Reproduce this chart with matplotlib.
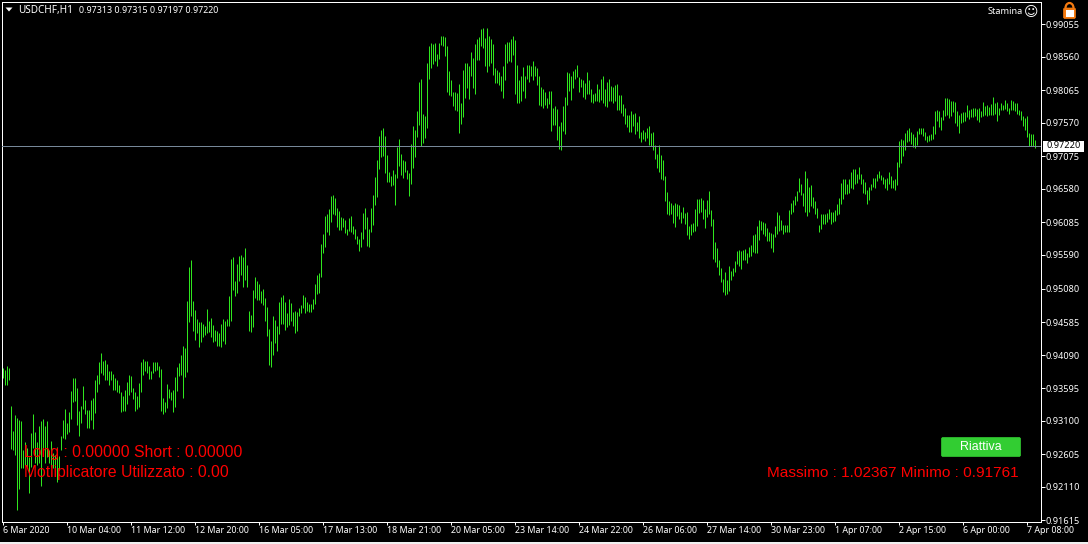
import matplotlib

matplotlib.use("Agg")
import matplotlib.pyplot as plt
import numpy as np
from matplotlib.patches import Arc, FancyBboxPatch, Polygon, Rectangle

# hourly bars, in points (1 point = 0.00001)
HIGHS = [
    93895, 93865, 93925, 93895, 93325, 92950, 93190, 93145, 93115, 93100,
    92665, 92785, 92695, 92560, 92920, 93205, 92935, 92785, 93025, 93100,
    93130, 93025, 93100, 92665, 92800, 92620, 92590, 92710, 92575, 92875,
    93115, 93280, 93070, 93235, 93550, 93745, 93745, 93595, 93250, 93325,
    93625, 93415, 93265, 93265, 93415, 93445, 93715, 93790, 93985, 94120,
    94000, 94015, 93955, 93850, 93850, 93805, 93745, 93715, 93640, 93535,
    93475, 93565, 93685, 93790, 93775, 93595, 93535, 93475, 93670, 93985,
    94030, 94000, 94000, 93925, 93850, 93985, 93985, 93985, 93925, 93880,
    93445, 93385, 93655, 93580, 93535, 93565, 93760, 93910, 93970, 94090,
    94225, 94195, 94900, 95410, 95515, 94900, 94765, 94630, 94585, 94585,
    94555, 94525, 94780, 94600, 94645, 94540, 94465, 94450, 94420, 94555,
    94630, 94600, 94630, 94975, 95530, 95560, 95200, 95455, 95575, 95590,
    95560, 95695, 95440, 94750, 94690, 95065, 95260, 95200, 95155, 95050,
    95080, 94945, 94810, 94480, 94300, 94675, 94615, 94525, 94885, 94960,
    94990, 94885, 94720, 94930, 94870, 94735, 94750, 94735, 94795, 94840,
    94990, 94960, 94885, 94855, 94855, 94930, 95155, 95290, 95320, 95755,
    95905, 96175, 96205, 96280, 96475, 96490, 96445, 96295, 96250, 96160,
    96145, 96115, 95980, 96145, 96175, 96025, 95980, 95875, 95830, 95935,
    96220, 96295, 96160, 95980, 96295, 96490, 96760, 97015, 97375, 97465,
    97495, 97375, 97090, 96835, 96775, 96865, 96805, 97210, 97330, 97105,
    97015, 97000, 96865, 96820, 97255, 97525, 97465, 97750, 98185, 98230,
    97705, 97675, 98470, 98725, 98770, 98755, 98770, 98605, 98770, 98875,
    98875, 98860, 98725, 98350, 98215, 98035, 98035, 98020, 98155, 97870,
    98365, 98470, 98470, 98425, 98635, 98545, 98755, 98830, 98860, 98980,
    98995, 98845, 98995, 98875, 98830, 98755, 98395, 98365, 98335, 98275,
    98425, 98755, 98785, 98785, 98830, 98875, 98815, 98440, 98215, 98275,
    98410, 98275, 98440, 98440, 98425, 98500, 98425, 98395, 98275, 98110,
    98080, 98035, 97945, 98050, 98050, 97795, 97825, 97780, 97525, 97585,
    97825, 97960, 98335, 98320, 98275, 98350, 98380, 98440, 98260, 98230,
    98215, 98170, 98335, 98215, 98080, 98005, 98020, 98155, 98080, 98230,
    98275, 98080, 98185, 98230, 98125, 98110, 98140, 98155, 97990, 97990,
    97855, 97795, 97690, 97690, 97750, 97705, 97720, 97585, 97675, 97435,
    97465, 97435, 97495, 97525, 97420, 97435, 97240, 97105, 97240, 97090,
    97015, 96775, 96535, 96400, 96370, 96340, 96370, 96355, 96340, 96235,
    96310, 96220, 96235, 96025, 96055, 96070, 96280, 96430, 96430, 96445,
    96415, 96280, 96415, 96550, 96265, 96130, 95785, 95695, 95515, 95395,
    95230, 95335, 95215, 95425, 95350, 95395, 95500, 95650, 95665, 95650,
    95665, 95680, 95620, 95710, 95740, 95890, 95905, 96025, 96115, 96100,
    96085, 96070, 95995, 95935, 95920, 95905, 96025, 96235, 96190, 96115,
    96040, 96040, 96040, 96265, 96370, 96415, 96475, 96550, 96745, 96655,
    96520, 96850, 96745, 96610, 96640, 96460, 96400, 96295, 96040, 96205,
    96205, 96205, 96220, 96280, 96235, 96235, 96265, 96355, 96445, 96670,
    96730, 96730, 96655, 96730, 96835, 96880, 96880, 96805, 96910, 96805,
    96730, 96685, 96565, 96610, 96655, 96745, 96745, 96805, 96850, 96790,
    96760, 96730, 96745, 96835, 96775, 96715, 96730, 96985, 97300, 97330,
    97315, 97420, 97465, 97495, 97435, 97405, 97360, 97450, 97495, 97495,
    97495, 97435, 97375, 97390, 97405, 97525, 97750, 97765, 97750, 97660,
    97765, 97945, 97945, 97930, 97900, 97900, 97885, 97750, 97690, 97720,
    97735, 97735, 97840, 97765, 97780, 97795, 97795, 97780, 97795, 97750,
    97885, 97825, 97840, 97810, 97855, 97960, 97870, 97885, 97795, 97870,
    97840, 97915, 97870, 97795, 97915, 97900, 97870, 97870, 97765, 97750,
    97675, 97645, 97675, 97420, 97405, 97405, 97315,
]
LOWS = [
    93745, 93640, 93640, 93715, 92680, 92665, 92590, 91765, 92080, 92395,
    92395, 92440, 92395, 92020, 92410, 92695, 92470, 92440, 92470, 92125,
    92590, 92470, 92560, 92470, 92410, 92395, 92320, 92185, 92365, 92665,
    92845, 92830, 92905, 92935, 93130, 93385, 93400, 93040, 92875, 93070,
    93280, 93205, 92995, 92995, 93115, 92980, 93220, 93535, 93655, 93820,
    93790, 93715, 93715, 93640, 93715, 93565, 93565, 93535, 93520, 93235,
    93250, 93250, 93355, 93490, 93535, 93430, 93250, 93280, 93310, 93535,
    93790, 93850, 93820, 93730, 93730, 93820, 93850, 93865, 93760, 93250,
    93205, 93235, 93295, 93445, 93415, 93235, 93310, 93550, 93775, 93790,
    93445, 93760, 93835, 94585, 94675, 94450, 94315, 94420, 94210, 94285,
    94360, 94390, 94420, 94435, 94360, 94285, 94300, 94225, 94225, 94210,
    94300, 94255, 94525, 94525, 94600, 95065, 94975, 95020, 95200, 95290,
    95110, 95215, 95110, 94450, 94435, 94510, 94945, 94915, 94915, 94870,
    94840, 94600, 94375, 93940, 93910, 94090, 94270, 94150, 94405, 94555,
    94555, 94465, 94510, 94540, 94600, 94525, 94420, 94450, 94675, 94720,
    94795, 94720, 94750, 94735, 94735, 94780, 94855, 95005, 95020, 95260,
    95620, 95710, 95935, 95890, 96085, 96205, 96190, 96010, 95965, 95965,
    96010, 95920, 95890, 95950, 95935, 95905, 95830, 95755, 95650, 95710,
    95830, 95980, 95725, 95710, 95935, 96040, 96340, 96460, 96880, 97060,
    97075, 96820, 96685, 96685, 96625, 96640, 96340, 96745, 96925, 96790,
    96745, 96835, 96730, 96475, 96655, 96895, 97060, 97360, 97540, 97225,
    97270, 97345, 97495, 98230, 98395, 98455, 98500, 98425, 98530, 98740,
    98725, 98575, 98035, 97990, 97975, 97825, 97765, 97750, 97420, 97555,
    97660, 97945, 98095, 97930, 98275, 98095, 98005, 98515, 98515, 98725,
    98695, 98425, 98335, 98425, 98470, 98290, 98170, 98170, 98140, 98050,
    97945, 98215, 98470, 98500, 98485, 98590, 98005, 97870, 97870, 97900,
    98050, 97945, 98230, 98185, 98275, 98215, 98275, 98140, 97840, 97825,
    97795, 97840, 97795, 97855, 97450, 97540, 97540, 97315, 97180, 97165,
    97450, 97405, 97840, 98050, 97915, 98095, 98230, 98260, 98035, 98110,
    97960, 97930, 98005, 98005, 97885, 97870, 97900, 97900, 97885, 97915,
    97870, 97825, 97810, 97900, 97900, 97870, 97900, 97765, 97765, 97720,
    97675, 97555, 97510, 97435, 97435, 97525, 97405, 97450, 97345, 97285,
    97330, 97300, 97345, 97240, 97225, 97165, 97030, 96895, 96835, 96730,
    96715, 96400, 96205, 96190, 96205, 96070, 96010, 96175, 96130, 96070,
    96145, 96055, 95890, 95830, 95890, 95935, 95950, 96025, 96220, 96235,
    96130, 95995, 96160, 96205, 96025, 95530, 95485, 95410, 95290, 95185,
    95035, 94990, 95005, 95050, 95215, 95275, 95335, 95455, 95425, 95380,
    95515, 95515, 95470, 95560, 95575, 95635, 95620, 95620, 95815, 95965,
    95905, 95875, 95800, 95800, 95695, 95635, 95860, 95905, 95950, 95965,
    95905, 95935, 95935, 95935, 96205, 96235, 96340, 96400, 96535, 96490,
    96325, 96235, 96175, 96235, 96325, 96295, 96205, 96145, 95935, 95980,
    96055, 96055, 96085, 96130, 96055, 96085, 96100, 96190, 96205, 96355,
    96430, 96505, 96505, 96520, 96595, 96580, 96655, 96670, 96730, 96655,
    96520, 96505, 96355, 96415, 96565, 96610, 96595, 96700, 96745, 96715,
    96655, 96595, 96565, 96655, 96595, 96595, 96565, 96640, 96910, 96970,
    97075, 97165, 97285, 97300, 97255, 97210, 97195, 97240, 97405, 97405,
    97375, 97315, 97285, 97300, 97315, 97330, 97405, 97600, 97510, 97465,
    97615, 97675, 97690, 97645, 97675, 97735, 97570, 97525, 97420, 97570,
    97585, 97600, 97660, 97630, 97660, 97660, 97675, 97615, 97585, 97660,
    97675, 97690, 97675, 97690, 97690, 97690, 97705, 97600, 97690, 97765,
    97765, 97780, 97750, 97705, 97765, 97765, 97750, 97705, 97690, 97615,
    97525, 97465, 97360, 97225, 97225, 97225, 97197,
]
PRICE_TICKS = [0.99055, 0.98560, 0.98065, 0.97570, 0.97075, 0.96580, 0.96085, 0.95590,
               0.95080, 0.94585, 0.94090, 0.93595, 0.93100, 0.92605, 0.92110, 0.91615]
TIME_LABELS = ["6 Mar 2020", "10 Mar 04:00", "11 Mar 12:00", "12 Mar 20:00", "16 Mar 05:00",
               "17 Mar 13:00", "18 Mar 21:00", "20 Mar 05:00", "23 Mar 14:00", "24 Mar 22:00",
               "26 Mar 06:00", "27 Mar 14:00", "30 Mar 23:00", "1 Apr 07:00", "2 Apr 15:00",
               "6 Apr 00:00", "7 Apr 08:00"]
BARS_PER_LABEL = 32
BID = 0.97220

W, H = 1088, 544
UI_FONT = ["Noto Sans", "DejaVu Sans"]
RED_FONT = ["Liberation Sans", "DejaVu Sans"]

fig = plt.figure(figsize=(W / 100, H / 100), dpi=100, facecolor="black")
ax = fig.add_axes([2 / W, 1 - 522 / H, 1039 / W, 520 / H], facecolor="black")

highs = np.array(HIGHS) / 1e5
lows = np.array(LOWS) / 1e5
ax.vlines(np.arange(len(highs)), lows, highs, color="#2fe61e", linewidth=0.72, zorder=2)
ax.axhline(BID, color="#778899", linewidth=0.72, zorder=3)

ax.set_xlim(-0.65, 518.85)
ax.set_ylim(0.91585, 0.99385)

ax.yaxis.tick_right()
ax.set_yticks(PRICE_TICKS)
ax.set_yticklabels([f"{p:.5f}" for p in PRICE_TICKS], fontsize=6.6, family=UI_FONT, color="white")
ax.set_xticks(np.arange(len(TIME_LABELS)) * BARS_PER_LABEL)
# MT4 starts each time label at its tick rather than centring it
ax.set_xticklabels(TIME_LABELS, fontsize=6.4, family=UI_FONT, color="white", ha="left")
ax.tick_params(axis="y", colors="white", length=3, width=0.72, pad=0.4)
ax.tick_params(axis="x", colors="white", length=2.2, width=0.72, pad=0.5)
for s in ax.spines.values():
    s.set_color("white")
    s.set_linewidth(0.72)

# overlay in image pixels for the terminal furniture
ui = fig.add_axes([0, 0, 1, 1], facecolor="none")
ui.set_xlim(0, W)
ui.set_ylim(H, 0)
ui.axis("off")

ui.add_patch(Polygon([(5.5, 7.5), (12.5, 7.5), (9, 11.5)], closed=True, color="white", lw=0))
ui.text(18, 10.5, "USDCHF,H1", color="white", fontsize=7.2, family=UI_FONT, va="center")
ui.text(79, 10.5, "0.97313 0.97315 0.97197 0.97220", color="white", fontsize=6.45, family=UI_FONT, va="center")
ui.text(1023, 12, "Stamina", color="white", fontsize=6.6, family=UI_FONT, va="center", ha="right")
ui.text(1031, 12, "\u263a", color="white", fontsize=10, family="DejaVu Sans", va="center", ha="center")

# price label of the bid line
ui.add_patch(Rectangle((1043, 141), 41, 11, color="white", lw=0))
ui.text(1063.5, 146, f"{BID:.5f}", color="black", fontsize=6.6, family=UI_FONT, va="center", ha="center")

# lock icon
ui.add_patch(Arc((1069.5, 8), 8, 10, theta1=180, theta2=360, color="#f47a10", lw=1.6))
ui.add_patch(FancyBboxPatch((1064, 8.5), 11, 9.5, boxstyle="round,pad=0.5,rounding_size=1.5",
                            fc="#f47a10", ec="#f47a10", lw=0.5))
ui.add_patch(Rectangle((1066, 10), 7.5, 6.5, color="white", lw=0))

# button and info labels
ui.add_patch(FancyBboxPatch((941.5, 437.5), 79, 19, boxstyle="round,pad=0,rounding_size=1.5",
                            fc="#32cd32", ec="#32cd32", lw=0.5))
ui.text(980.5, 447, "Riattiva", color="white", fontsize=8.9, family=RED_FONT, va="center", ha="center")
ui.text(24, 453, "Long : 0.00000 Short : 0.00000", color="red", fontsize=11.3, family=RED_FONT, va="center")
ui.text(24, 473, "Motliplicatore Utilizzato : 0.00", color="red", fontsize=11.3, family=RED_FONT, va="center")
ui.text(1019, 473, "Massimo : 1.02367 Minimo : 0.91761", color="red", fontsize=11.1, family=RED_FONT,
        va="center", ha="right")

# window edge under the chart
ui.add_patch(Rectangle((0, 541.5), W, 3, color="#f0f0f0", lw=0))

fig.savefig("out.png", dpi=100, facecolor=fig.get_facecolor())
